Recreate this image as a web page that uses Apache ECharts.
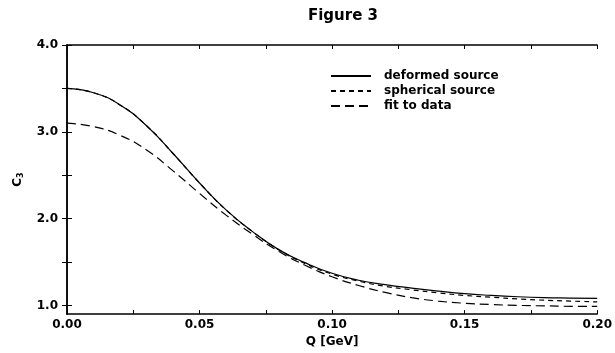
<!DOCTYPE html>
<html>
<head>
<meta charset="utf-8">
<script src="https://cdn.jsdelivr.net/npm/echarts@6/dist/echarts.min.js"></script>
<style>
  html, body { margin: 0; padding: 0; background: #fff; }
  #chart { width: 615px; height: 353px; }
</style>
</head>
<body>
<div id="chart"></div>
<script>
// Q in GeV
const qValues = [0.00, 0.01, 0.02, 0.03, 0.04, 0.05, 0.06, 0.07, 0.08, 0.09, 0.10,
                 0.11, 0.12, 0.13, 0.14, 0.15, 0.16, 0.17, 0.18, 0.19, 0.20];
const deformed = [3.50, 3.45, 3.31, 3.07, 2.75, 2.41, 2.10, 1.85, 1.64, 1.49, 1.37,
                  1.29, 1.24, 1.20, 1.165, 1.135, 1.115, 1.10, 1.09, 1.085, 1.08];
const spherical = [3.50, 3.45, 3.31, 3.07, 2.75, 2.41, 2.10, 1.85, 1.64, 1.48, 1.36,
                   1.28, 1.22, 1.18, 1.145, 1.115, 1.095, 1.075, 1.06, 1.05, 1.04];
const fitToData = [3.10, 3.06, 2.96, 2.79, 2.55, 2.29, 2.04, 1.82, 1.62, 1.46, 1.33,
                   1.23, 1.15, 1.09, 1.05, 1.025, 1.01, 1.00, 0.995, 0.99, 0.99];
const yLabelValues = [1.0, 2.0, 3.0, 4.0];
const yTickValues = [1.0, 1.5, 2.0, 2.5, 3.0, 3.5, 4.0];

const font = '"DejaVu Sans", sans-serif';
const pairs = (ys) => qValues.map((q, i) => [q, ys[i]]);

const chart = echarts.init(document.getElementById('chart'), null, { renderer: 'canvas' });

const xTick = { show: true, inside: true, length: 4, lineStyle: { color: '#000', width: 1 } };
const yTick = { show: true, inside: true, length: 5, lineStyle: { color: '#000', width: 1 }, customValues: yTickValues };
const axisLine = { show: true, lineStyle: { color: '#000', width: 1.5 } };

const lineSeries = (name, data, dash) => ({
  name,
  type: 'line',
  data: pairs(data),
  smooth: true,
  symbol: 'none',
  lineStyle: { color: '#000', width: 1.2, type: dash },
  itemStyle: { color: '#000' },
  z: 3,
});

chart.setOption({
  animation: false,
  backgroundColor: '#fff',
  title: {
    text: 'Figure 3',
    left: 338,
    top: 4,
    textAlign: 'center',
    textStyle: { fontFamily: font, fontWeight: 'bold', fontSize: 15, color: '#000' },
  },
  legend: {
    orient: 'vertical',
    left: 330,
    top: 70,
    padding: 0,
    itemWidth: 40,
    itemHeight: 10,
    itemGap: 3,
    itemStyle: { opacity: 0 },
    textStyle: { fontFamily: font, fontWeight: 'bold', fontSize: 12, color: '#000', padding: [0, 0, 0, 8] },
    data: ['deformed source', 'spherical source', 'fit to data'],
  },
  grid: { left: 67, right: 15, top: 45, bottom: 27 },
  xAxis: [
    {
      type: 'value',
      min: 0,
      max: 0.2,
      interval: 0.025,
      name: 'Q [GeV]',
      nameLocation: 'middle',
      nameGap: 15,
      nameTextStyle: { fontFamily: font, fontWeight: 'bold', fontSize: 12, color: '#000' },
      axisLine,
      axisTick: xTick,
      splitLine: { show: false },
      axisLabel: {
        margin: 5,
        fontFamily: font,
        fontWeight: 'bold',
        fontSize: 12,
        color: '#000',
        formatter: (v) => (Math.round(v * 1000) % 50 === 0 ? v.toFixed(2) : ''),
      },
    },
    {
      type: 'value',
      position: 'top',
      min: 0,
      max: 0.2,
      interval: 0.025,
      axisLine,
      axisTick: xTick,
      axisLabel: { show: false },
      splitLine: { show: false },
    },
  ],
  yAxis: [
    {
      type: 'value',
      min: 0.9,
      max: 4.0,
      name: '{c|C}{s|3}',
      nameLocation: 'middle',
      nameRotate: 90,
      nameGap: 42,
      nameTextStyle: {
        rich: {
          c: { fontFamily: font, fontWeight: 'bold', fontSize: 12, color: '#000' },
          s: { fontFamily: font, fontWeight: 'bold', fontSize: 8, color: '#000', verticalAlign: 'bottom', padding: [6, 0, 0, 0] },
        },
      },
      axisLine,
      axisTick: yTick,
      splitLine: { show: false },
      axisLabel: {
        margin: 9,
        fontFamily: font,
        fontWeight: 'bold',
        fontSize: 12,
        color: '#000',
        customValues: yLabelValues,
        formatter: (v) => v.toFixed(1),
      },
    },
    {
      type: 'value',
      position: 'right',
      min: 0.9,
      max: 4.0,
      axisLine,
      axisTick: yTick,
      axisLabel: { show: false },
      splitLine: { show: false },
    },
  ],
  series: [
    lineSeries('deformed source', deformed, 'solid'),
    lineSeries('spherical source', spherical, [5, 4]),
    lineSeries('fit to data', fitToData, [9, 5]),
  ],
});
</script>
</body>
</html>
